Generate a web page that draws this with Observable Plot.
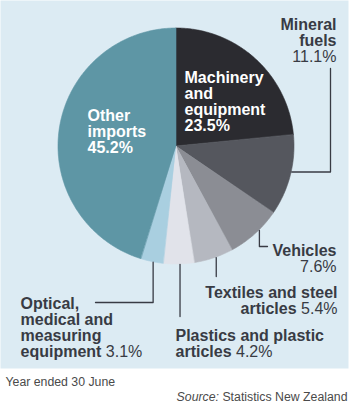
<!DOCTYPE html>
<html><head><meta charset="utf-8">
<script src="https://cdn.jsdelivr.net/npm/d3@7"></script>
<script src="https://cdn.jsdelivr.net/npm/@observablehq/plot@0.6"></script>
<style>body{margin:0;background:#fff;} svg{display:block}</style>
</head><body>
<div id="chart"></div>
<script>
// ---- data ----
const categories = [
  "Machinery and equipment",
  "Mineral fuels",
  "Vehicles",
  "Textiles and steel articles",
  "Plastics and plastic articles",
  "Optical, medical and measuring equipment",
  "Other imports"
];
const shares = [23.5, 11.1, 7.6, 5.4, 4.2, 3.1, 45.2];
const footnote = "Year ended 30 June";
const sourceLabel = "Source:";
const sourceName = "Statistics New Zealand";

// ---- styles / layout ----
const palette = ["#2b2b30", "#55575e", "#8b8d94", "#b5b8c0", "#e1e3ea", "#a9cfe0", "#5e96a5"];
const W = 357, H = 405, PW = 348, PH = 368;
const CX = 176, CY = 146, R = 118;
const FONT = "'Liberation Sans', Arial, Helvetica, sans-serif";
const FS = 16, LH = 16, FFS = 12.3;
const INK = "#383b44";

const labelLayout = [
  {i: 0, lines: ["Machinery", "and", "equipment"], pct: "own", x: 184, y: 82, anchor: "start", inside: true},
  {i: 1, lines: ["Mineral", "fuels"], pct: "own", x: 336, y: 29.5, anchor: "end"},
  {i: 2, lines: ["Vehicles"], pct: "own", x: 336, y: 255, anchor: "end"},
  {i: 3, lines: ["Textiles and steel", "articles"], pct: "inline", x: 337, y: 297, anchor: "end"},
  {i: 4, lines: ["Plastics and plastic", "articles"], pct: "inline", x: 175, y: 340, anchor: "start"},
  {i: 5, lines: ["Optical,", "medical and", "measuring", "equipment"], pct: "inline", x: 20, y: 308, anchor: "start"},
  {i: 6, lines: ["Other", "imports"], pct: "own", x: 87, y: 120, anchor: "start", inside: true}
];
const leaderLayout = [
  {i: 1, at: 0.45, steps: [{x: 330}, {y: 68}]},
  {i: 2, at: 0.40, steps: [{y: 246}, {x: 267}]},
  {i: 3, at: 0.44, steps: [{y: 276}]},
  {i: 4, at: 0.47, steps: [{y: 316}]},
  {i: 5, at: 0.46, steps: [{y: 302}, {x: 95}]}
];

// ---- geometry from data ----
const pie = d3.pie().sort(null).value(d => d.share)(categories.map((name, i) => ({name, share: shares[i]})));
const arcPoint = a => [CX + R * Math.sin(a), CY - R * Math.cos(a)];
const wedges = pie.flatMap(p => {
  const n = Math.max(2, Math.ceil((p.endAngle - p.startAngle) / 0.01));
  return d3.range(n + 1).map(k => {
    const a = p.startAngle + (p.endAngle - p.startAngle) * k / n;
    const [x, y] = arcPoint(a);
    return {name: p.data.name, x1: CX, y1: CY, x2: x, y2: y};
  });
});
const leaders = leaderLayout.flatMap(L => {
  const p = pie[L.i];
  let [x, y] = arcPoint(p.startAngle + (p.endAngle - p.startAngle) * L.at);
  const pts = [{name: categories[L.i], x, y}];
  for (const s of L.steps) {
    if (s.x !== undefined) x = s.x;
    if (s.y !== undefined) y = s.y;
    pts.push({name: categories[L.i], x, y});
  }
  return pts;
});

// ---- text ----
const ctx = document.createElement("canvas").getContext("2d");
function tw(s, weight, size, style = "normal") {
  ctx.font = `${style} ${weight} ${size}px ${FONT}`;
  return ctx.measureText(s).width;
}
const fmt = v => d3.format(".1f")(v) + "%";
const rows = [];
for (const L of labelLayout) {
  const pct = fmt(shares[L.i]);
  const color = L.inside ? "white" : INK;
  L.lines.forEach((line, k) => {
    const y = L.y + k * LH;
    const last = k === L.lines.length - 1;
    if (last && L.pct === "inline") {
      if (L.anchor === "end") {
        rows.push({x: L.x, y, text: pct, anchor: "end", weight: "normal", fill: color});
        rows.push({x: L.x - tw(" " + pct, "normal", FS), y, text: line, anchor: "end", weight: "bold", fill: color});
      } else {
        rows.push({x: L.x, y, text: line, anchor: "start", weight: "bold", fill: color});
        rows.push({x: L.x + tw(line + " ", "bold", FS), y, text: pct, anchor: "start", weight: "normal", fill: color});
      }
    } else {
      rows.push({x: L.x, y, text: line, anchor: L.anchor, weight: "bold", fill: color});
    }
  });
  if (L.pct === "own") {
    rows.push({x: L.x, y: L.y + L.lines.length * LH, text: pct, anchor: L.anchor,
      weight: L.inside ? "bold" : "normal", fill: color});
  }
}
const textMarks = Array.from(d3.group(rows, r => `${r.anchor}|${r.weight}|${r.fill}`), ([key, rs]) =>
  Plot.text(rs, {x: "x", y: "y", text: "text", textAnchor: rs[0].anchor, lineAnchor: "bottom",
    fontWeight: rs[0].weight, fill: rs[0].fill, fontSize: FS, fontFamily: FONT}));

const footRows = [
  {x: 5, y: 385, text: footnote, anchor: "start", style: "normal"},
  {x: 347, y: 400, text: sourceName, anchor: "end", style: "normal"},
  {x: 347 - tw(sourceName, "normal", FFS) - tw(" ", "normal", FFS), y: 400, text: sourceLabel, anchor: "end", style: "italic"}
];
const footMarks = Array.from(d3.group(footRows, r => `${r.anchor}|${r.style}`), ([key, rs]) =>
  Plot.text(rs, {x: "x", y: "y", text: "text", textAnchor: rs[0].anchor, lineAnchor: "bottom",
    fontStyle: rs[0].style, fill: "#4a4a4a", fontSize: FFS, fontFamily: FONT}));

const chart = Plot.plot({
  width: W, height: H,
  marginTop: 0, marginLeft: 0, marginRight: W - PW, marginBottom: H - PH,
  x: {domain: [0, PW], range: [0, PW], axis: null},
  y: {domain: [0, PH], range: [0, PH], axis: null},
  color: {domain: categories, range: palette},
  style: {background: "white", fontFamily: FONT},
  marks: [
    Plot.frame({fill: "#dcebf3", stroke: null}),
    Plot.area(wedges, {x1: "x1", y1: "y1", x2: "x2", y2: "y2", z: "name", fill: "name", stroke: "name", strokeWidth: 0.6}),
    Plot.line(leaders, {x: "x", y: "y", z: "name", stroke: INK, strokeWidth: 1.3}),
    ...textMarks,
    ...footMarks
  ]
});
document.getElementById("chart").append(chart);
</script>
</body></html>
